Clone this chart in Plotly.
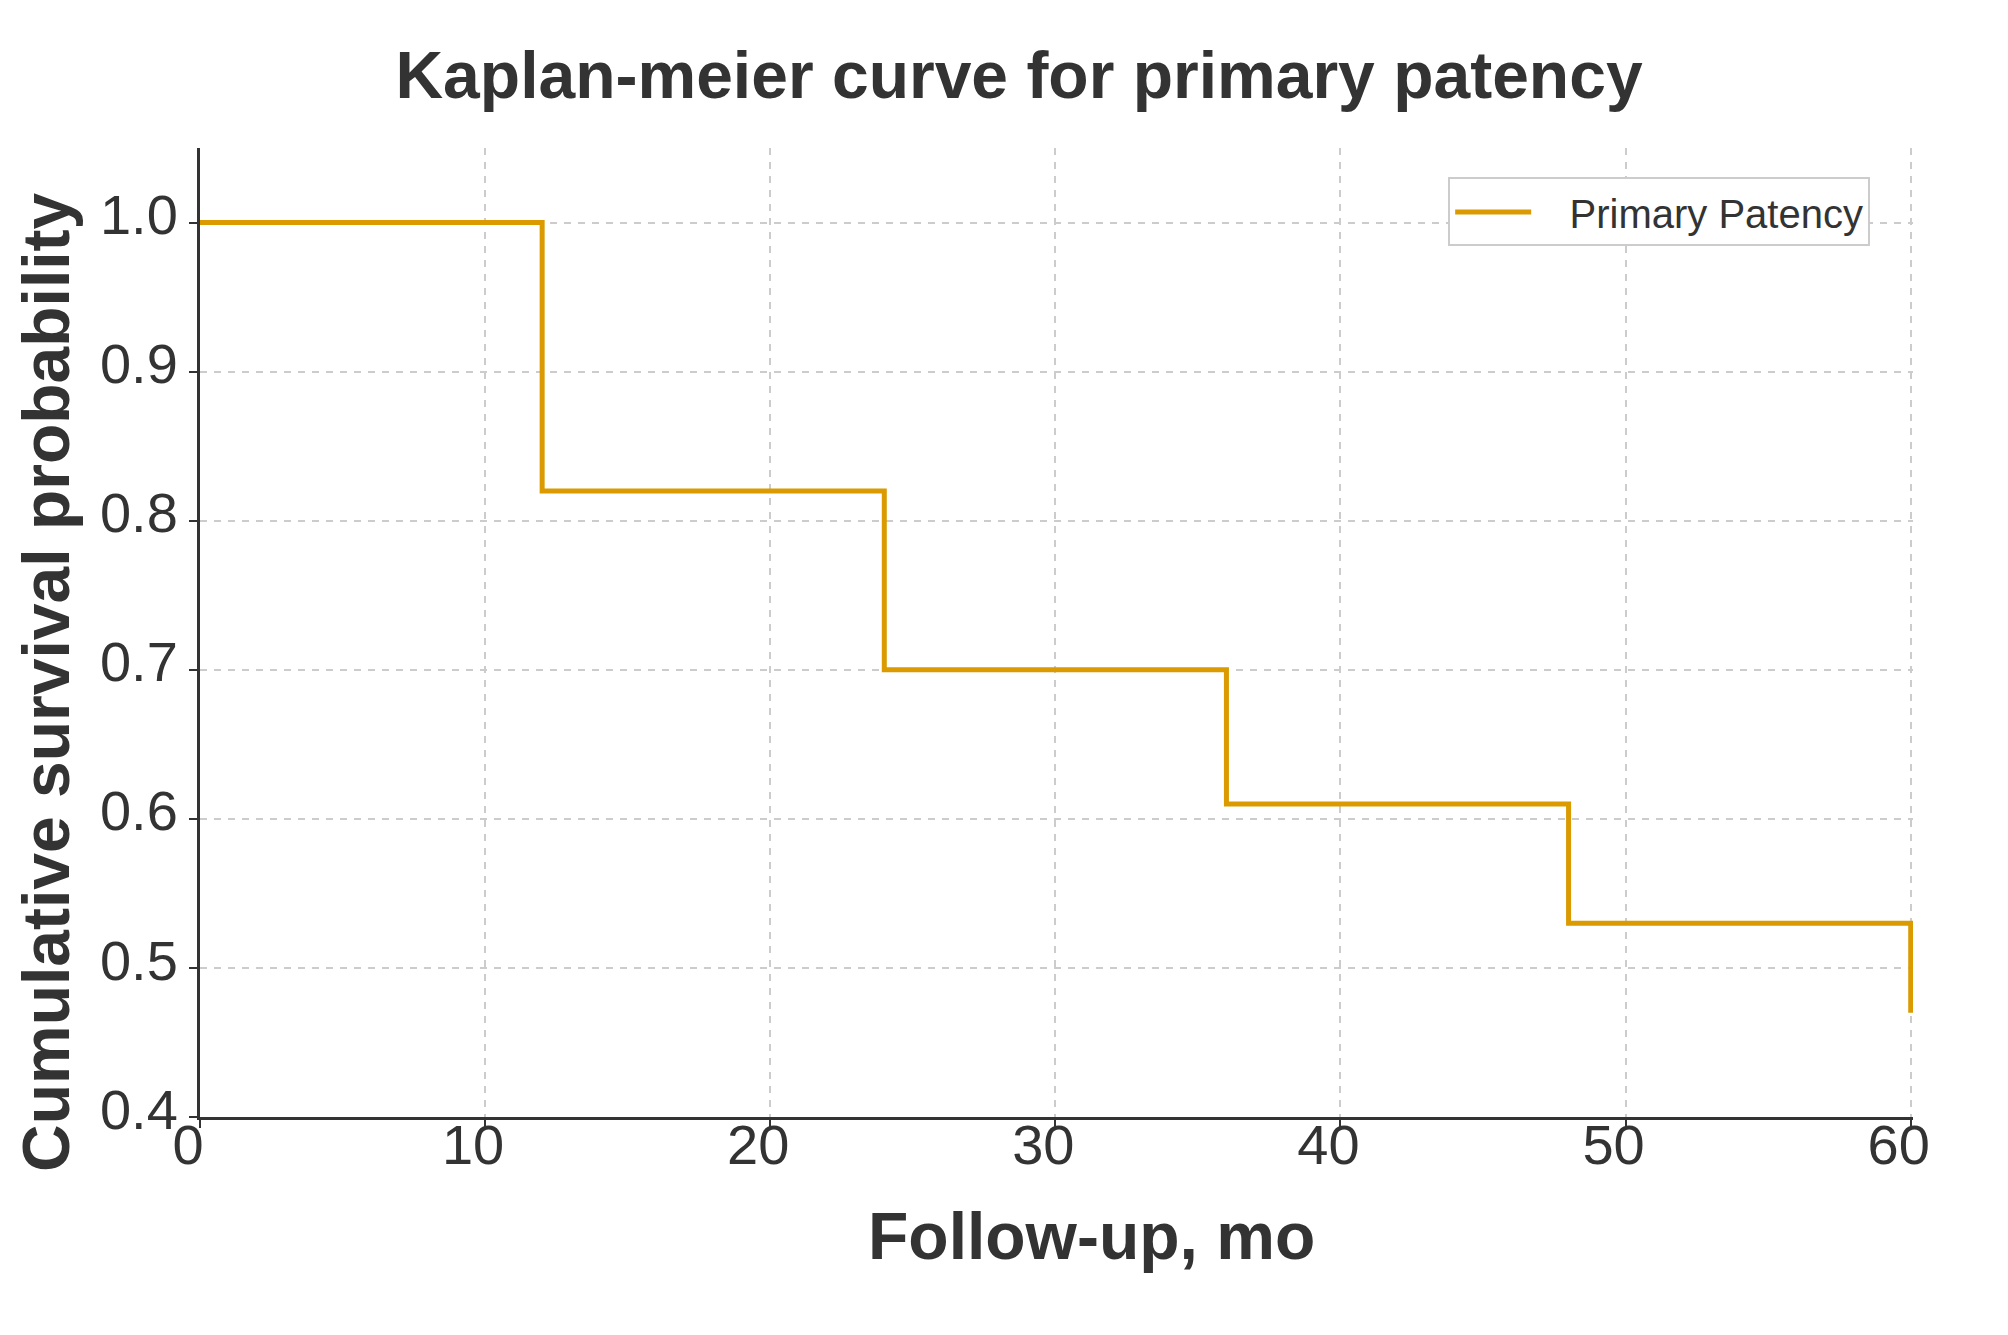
import plotly.graph_objects as go

# Kaplan-Meier estimate for primary patency (months, survival)
months = [0, 12, 24, 36, 48, 60, 60]
survival = [1.0, 0.82, 0.70, 0.61, 0.53, 0.53, 0.47]
series_name = "Primary Patency"

x_ticks = [0, 10, 20, 30, 40, 50, 60]
y_ticks = [0.4, 0.5, 0.6, 0.7, 0.8, 0.9, 1.0]

TEXT = "#333333"
FONT = "Arial, Liberation Sans, sans-serif"

fig = go.Figure()
fig.add_trace(go.Scatter(
    x=months, y=survival, mode="lines",
    name="\u00a0\u00a0\u00a0" + series_name,  # gap between sample line and label
    line=dict(color="#DA9A00", width=5, shape="hv"),
))

axis_common = dict(
    showline=True, linecolor=TEXT, linewidth=3, mirror=False,
    ticks="outside", ticklen=8, tickwidth=2, tickcolor=TEXT,
    showgrid=True, gridcolor="#cccccc", gridwidth=2, griddash="7px,7px",
    zeroline=False, tickfont=dict(size=56, color=TEXT, family=FONT),
)

# a hair of extra room on the right so the last drop isn't clipped
fig.update_xaxes(range=[0, 60.08], tickvals=x_ticks,
                 ticklabelstandoff=-31, ticklabelshift=-12, **axis_common)
fig.update_yaxes(range=[0.4, 1.05], tickvals=y_ticks, tickformat=".1f",
                 ticklabelshift=-8, **axis_common)

# the page body adds 8px, margins are trimmed to compensate
fig.update_layout(
    width=2008, height=1335,
    paper_bgcolor="white", plot_bgcolor="white",
    margin=dict(l=192, r=103, t=140, b=226),
    font=dict(family=FONT, color=TEXT),
    title=dict(
        text="<b>Kaplan-meier curve for primary patency</b>",
        font=dict(size=66, color=TEXT, family=FONT),
        x=0.5035, xref="container", y=0.950, yref="container",
        xanchor="center", yanchor="middle",
    ),
    legend=dict(
        x=0.975, y=0.934, xanchor="right", yanchor="middle",
        bgcolor="white", bordercolor="#cccccc", borderwidth=2,
        font=dict(size=40, color=TEXT, family=FONT),
        itemwidth=76,
    ),
    showlegend=True,
)

# axis titles placed as annotations to match the offsets in the original
fig.add_annotation(
    text="<b>Follow-up, mo</b>", xref="paper", yref="paper",
    x=(1091 - 200) / 1713, y=-(1236 - 1117) / 969,
    showarrow=False, xanchor="center", yanchor="middle",
    font=dict(size=66, color=TEXT, family=FONT),
)
fig.add_annotation(
    text="<b>Cumulative survival probability</b>", xref="paper", yref="paper",
    x=-(200 - 46) / 1713, y=(1117 - 682) / 969, textangle=-90,
    showarrow=False, xanchor="center", yanchor="middle",
    font=dict(size=66, color=TEXT, family=FONT),
)

fig.write_html("out.html")
